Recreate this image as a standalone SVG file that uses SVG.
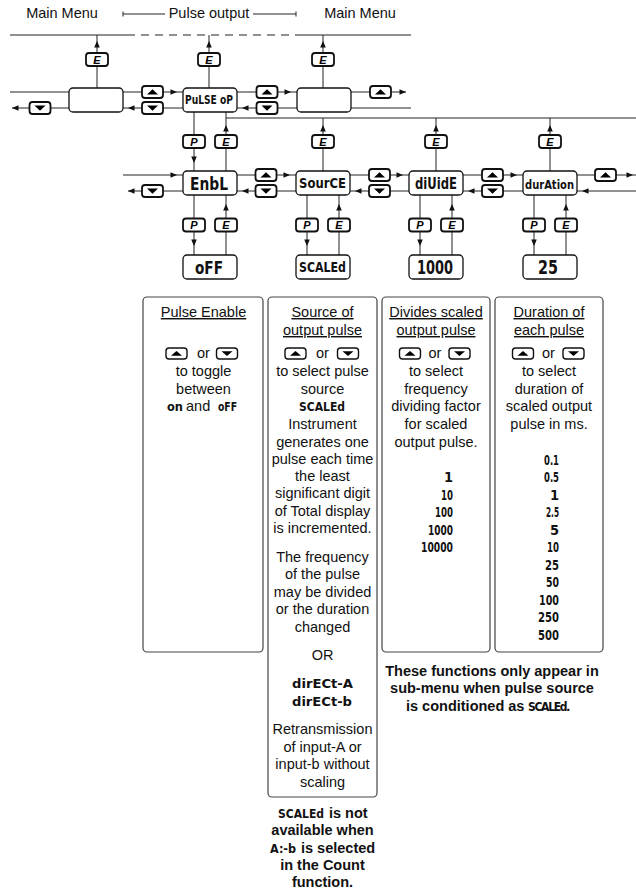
<svg xmlns="http://www.w3.org/2000/svg" xmlns:xlink="http://www.w3.org/1999/xlink" width="636" height="890" viewBox="0 0 636 890">
<style>
.ln{stroke:#222;stroke-width:1;fill:none}
.dash{stroke-dasharray:8 6}
.box{fill:#fff;stroke:#111;stroke-width:1.3}
.tb{fill:#fff;stroke:#444;stroke-width:1.2}
.t{font-family:"Liberation Sans",Arial,sans-serif;font-size:14.5px;fill:#111;text-anchor:middle}
.ts{font-family:"Liberation Sans",Arial,sans-serif;font-size:14.5px;fill:#111}
.u{text-decoration:underline}
.b{font-weight:bold}
.seg{font-family:"DejaVu Sans Condensed","Liberation Sans Narrow","DejaVu Sans",sans-serif;fill:#111;font-weight:bold}
.k{font-family:"Liberation Sans",Arial,sans-serif;font-weight:bold;font-style:italic;font-size:11px;text-anchor:middle;fill:#000}
.ah{fill:#111}
.kb{fill:#fff;stroke:#111;stroke-width:1.8}
.sk{fill:#fff;stroke:#111;stroke-width:1.4}
.tri{fill:#000}
</style>
<defs>
<path id="aR" class="ah" d="M0,0 L-6.5,-2.8 L-6.5,2.8 Z"/>
<path id="aL" class="ah" d="M0,0 L6.5,-2.8 L6.5,2.8 Z"/>
<path id="aU" class="ah" d="M0,0 L-2.8,6.5 L2.8,6.5 Z"/>
<path id="aD" class="ah" d="M0,0 L-2.8,-6.5 L2.8,-6.5 Z"/>
<g id="bU"><rect class="kb" x="-10.5" y="-6" width="21" height="12" rx="3"/><path class="tri" d="M-5.5,2.5 L0,-2.8 L5.5,2.5 Z"/></g>
<g id="bD"><rect class="kb" x="-10.5" y="-6" width="21" height="12" rx="3"/><path class="tri" d="M-5.5,-2.5 L0,2.8 L5.5,-2.5 Z"/></g>
<g id="sU"><rect class="sk" x="-10.5" y="-5.5" width="21" height="11" rx="3"/><path class="tri" d="M-5.5,2.3 L0,-2.6 L5.5,2.3 Z"/></g>
<g id="sD"><rect class="sk" x="-10.5" y="-5.5" width="21" height="11" rx="3"/><path class="tri" d="M-5.5,-2.3 L0,2.6 L5.5,-2.3 Z"/></g>
<rect id="bK" class="kb" x="-11" y="-6.5" width="22" height="13" rx="3"/>
</defs>

<g id="header">
<text class="t" x="62" y="18">Main Menu</text>
<text class="t" x="209" y="18">Pulse output</text>
<text class="t" x="360" y="18">Main Menu</text>
<path class="ln" d="M123,14 H165 M253,14 H296 M123,11.5 V16.5 M296,11.5 V16.5"/>
</g>

<g id="connectors">
<path class="ln" d="M10,35 H127 M297,35 H411"/>
<path class="ln dash" d="M127,35 H297"/>
<path class="ln" d="M97,88 V35 M209,88 V35 M323,88 V35"/>
<path class="ln" d="M10,92 H69 M123,92 H183 M237,92 H297 M351,92 H406"/>
<path class="ln" d="M12,108 H69 M123,108 H183 M237,108 H297 M351,108 H411"/>
<path class="ln" d="M194,112 V171 M226,112 V171 M226,118 H636 M323,118 V171 M436,118 V171 M550,118 V171"/>
<path class="ln" d="M123,175 H183 M237,175 H296 M350,175 H409 M463,175 H523 M577,175 H636"/>
<path class="ln" d="M128,191 H183 M237,191 H296 M350,191 H409 M463,191 H523 M577,191 H636"/>
<path class="ln" d="M194,195 V255 M226,195 V255 M307,195 V255 M339,195 V255 M420,195 V255 M452,195 V255 M534,195 V255 M566,195 V255"/>
<use href="#aU" x="97" y="41"/><use href="#aU" x="209" y="41"/><use href="#aU" x="323" y="41"/>
<use href="#aR" x="177" y="92"/><use href="#aR" x="291" y="92"/><use href="#aR" x="406" y="92"/>
<use href="#aL" x="12" y="108"/><use href="#aL" x="128" y="108"/><use href="#aL" x="242" y="108"/>
<use href="#aD" x="194" y="163"/>
<use href="#aU" x="226" y="125"/><use href="#aU" x="323" y="125"/><use href="#aU" x="436" y="125"/><use href="#aU" x="550" y="125"/>
<use href="#aR" x="177" y="175"/><use href="#aR" x="290" y="175"/><use href="#aR" x="403" y="175"/><use href="#aR" x="517" y="175"/><use href="#aR" x="633" y="175"/>
<use href="#aL" x="128" y="191"/><use href="#aL" x="242" y="191"/><use href="#aL" x="355" y="191"/><use href="#aL" x="468" y="191"/><use href="#aL" x="582" y="191"/>
<use href="#aD" x="194" y="246"/><use href="#aD" x="307" y="246"/><use href="#aD" x="420" y="246"/><use href="#aD" x="534" y="246"/>
<use href="#aU" x="226" y="204"/><use href="#aU" x="339" y="204"/><use href="#aU" x="452" y="204"/><use href="#aU" x="566" y="204"/>
</g>

<g id="keys">
<g id="k-e1"><use href="#bK" x="97" y="59.5"/><text class="k" x="97" y="63.5">E</text></g>
<g id="k-e2"><use href="#bK" x="209" y="59.5"/><text class="k" x="209" y="63.5">E</text></g>
<g id="k-e3"><use href="#bK" x="323" y="59.5"/><text class="k" x="323" y="63.5">E</text></g>
<use href="#bD" x="40" y="108"/>
<use href="#bU" x="152.5" y="92"/><use href="#bD" x="152.5" y="108"/>
<use href="#bU" x="267" y="92"/><use href="#bD" x="267" y="108"/>
<use href="#bU" x="380.5" y="92"/>
<g id="k-p1"><use href="#bK" x="194" y="141.5"/><text class="k" x="194" y="145.5">P</text></g>
<g id="k-e4"><use href="#bK" x="226" y="141.5"/><text class="k" x="226" y="145.5">E</text></g>
<g id="k-e5"><use href="#bK" x="323" y="141.5"/><text class="k" x="323" y="145.5">E</text></g>
<g id="k-e6"><use href="#bK" x="436" y="141.5"/><text class="k" x="436" y="145.5">E</text></g>
<g id="k-e7"><use href="#bK" x="550" y="141.5"/><text class="k" x="550" y="145.5">E</text></g>
<use href="#bD" x="152.5" y="191"/>
<use href="#bU" x="266" y="175"/><use href="#bD" x="266" y="191"/>
<use href="#bU" x="379.5" y="175"/><use href="#bD" x="379.5" y="191"/>
<use href="#bU" x="492.5" y="175"/><use href="#bD" x="492.5" y="191"/>
<use href="#bU" x="605.5" y="175"/>
<g id="k-p2"><use href="#bK" x="194" y="225"/><text class="k" x="194" y="229">P</text></g>
<g id="k-e8"><use href="#bK" x="226" y="225"/><text class="k" x="226" y="229">E</text></g>
<g id="k-p3"><use href="#bK" x="307" y="225"/><text class="k" x="307" y="229">P</text></g>
<g id="k-e9"><use href="#bK" x="339" y="225"/><text class="k" x="339" y="229">E</text></g>
<g id="k-p4"><use href="#bK" x="420" y="225"/><text class="k" x="420" y="229">P</text></g>
<g id="k-e10"><use href="#bK" x="452" y="225"/><text class="k" x="452" y="229">E</text></g>
<g id="k-p5"><use href="#bK" x="534" y="225"/><text class="k" x="534" y="229">P</text></g>
<g id="k-e11"><use href="#bK" x="566" y="225"/><text class="k" x="566" y="229">E</text></g>
</g>

<g id="n-menu-left"><rect class="box" x="69" y="88" width="54" height="24" rx="4"/></g>
<g id="n-pulseop"><rect class="box" x="183" y="88" width="54" height="24" rx="4"/><text class="seg" x="185" y="104" font-size="12.5" textLength="48" lengthAdjust="spacingAndGlyphs">PuLSE oP</text></g>
<g id="n-menu-right"><rect class="box" x="297" y="88" width="54" height="24" rx="4"/></g>

<g id="n-enbl"><rect class="box" x="183" y="171" width="54" height="24" rx="4"/><text class="seg" x="190" y="190" font-size="18" textLength="38" lengthAdjust="spacingAndGlyphs">EnbL</text></g>
<g id="n-source"><rect class="box" x="296" y="171" width="54" height="24" rx="4"/><text class="seg" x="299" y="188" font-size="14" textLength="47" lengthAdjust="spacingAndGlyphs">SourCE</text></g>
<g id="n-divide"><rect class="box" x="409" y="171" width="54" height="24" rx="4"/><text class="seg" x="415" y="189" font-size="15" textLength="42" lengthAdjust="spacingAndGlyphs">diUidE</text></g>
<g id="n-duration"><rect class="box" x="523" y="171" width="54" height="24" rx="4"/><text class="seg" x="525" y="189" font-size="12.5" textLength="49" lengthAdjust="spacingAndGlyphs">durAtion</text></g>

<g id="n-off"><rect class="box" x="183" y="255" width="54" height="24" rx="4"/><text class="seg" x="195" y="274" font-size="18" textLength="28" lengthAdjust="spacingAndGlyphs">oFF</text></g>
<g id="n-scaled"><rect class="box" x="296" y="255" width="54" height="24" rx="4"/><text class="seg" x="299" y="272" font-size="14" textLength="47" lengthAdjust="spacingAndGlyphs">SCALEd</text></g>
<g id="n-1000"><rect class="box" x="409" y="255" width="54" height="24" rx="4"/><text class="seg" x="417" y="274" font-size="19" textLength="36" lengthAdjust="spacingAndGlyphs">1000</text></g>
<g id="n-25"><rect class="box" x="523" y="255" width="54" height="24" rx="4"/><text class="seg" x="538" y="274" font-size="19" textLength="20" lengthAdjust="spacingAndGlyphs">25</text></g>

<g id="info-enable">
<rect class="tb" x="143" y="297" width="120" height="355" rx="4"/>
<text class="t u" x="203.5" y="317">Pulse Enable</text>
<use href="#sU" x="176.5" y="353.5"/><text class="t" x="203.5" y="358">or</text><use href="#sD" x="227" y="353.5"/>
<text class="t" x="203.5" y="376">to toggle</text>
<text class="t" x="203.5" y="394">between</text>
<text class="ts" y="411"><tspan class="seg" x="167" font-size="12" textLength="16" lengthAdjust="spacingAndGlyphs">on</tspan> <tspan x="186">and</tspan> <tspan class="seg" x="218" font-size="12" textLength="19" lengthAdjust="spacingAndGlyphs">oFF</tspan></text>
</g>

<g id="info-source">
<rect class="tb" x="268" y="297" width="109" height="500" rx="4"/>
<text class="t u" x="322.5" y="317">Source of</text>
<text class="t u" x="322.5" y="335">output pulse</text>
<use href="#sU" x="295.5" y="353.5"/><text class="t" x="322.5" y="358">or</text><use href="#sD" x="348" y="353.5"/>
<text class="t" x="322.5" y="376">to select pulse</text>
<text class="t" x="322.5" y="394">source</text>
<text class="seg" x="299" y="411" font-size="13" textLength="46" lengthAdjust="spacingAndGlyphs">SCALEd</text>
<text class="t" x="322.5" y="429">Instrument</text>
<text class="t" x="322.5" y="447">generates one</text>
<text class="t" x="322.5" y="464">pulse each time</text>
<text class="t" x="322.5" y="481">the least</text>
<text class="t" x="322.5" y="498">significant digit</text>
<text class="t" x="322.5" y="516">of Total display</text>
<text class="t" x="322.5" y="533">is incremented.</text>
<text class="t" x="322.5" y="562">The frequency</text>
<text class="t" x="322.5" y="579">of the pulse</text>
<text class="t" x="322.5" y="597">may be divided</text>
<text class="t" x="322.5" y="614">or the duration</text>
<text class="t" x="322.5" y="632">changed</text>
<text class="t" x="322.5" y="660">OR</text>
<text class="seg" x="292" y="688" font-size="13" textLength="61" lengthAdjust="spacingAndGlyphs">dirECt-A</text>
<text class="seg" x="292" y="706" font-size="13" textLength="60" lengthAdjust="spacingAndGlyphs">dirECt-b</text>
<text class="t" x="322.5" y="734">Retransmission</text>
<text class="t" x="322.5" y="752">of input-A or</text>
<text class="t" x="322.5" y="769">input-b without</text>
<text class="t" x="322.5" y="787">scaling</text>
</g>

<g id="info-divide">
<rect class="tb" x="382" y="297" width="108" height="355" rx="4"/>
<text class="t u" x="436" y="317">Divides scaled</text>
<text class="t u" x="436" y="335">output pulse</text>
<use href="#sU" x="410" y="353.5"/><text class="t" x="435" y="358">or</text><use href="#sD" x="459.5" y="353.5"/>
<text class="t" x="436" y="376">to select</text>
<text class="t" x="436" y="394">frequency</text>
<text class="t" x="436" y="411">dividing factor</text>
<text class="t" x="436" y="429">for scaled</text>
<text class="t" x="436" y="447">output pulse.</text>
<g class="seg" font-size="14.5" text-anchor="end">
<text x="453" y="482">1</text>
<text x="453" y="500" textLength="12" lengthAdjust="spacingAndGlyphs">10</text>
<text x="453" y="517" textLength="18" lengthAdjust="spacingAndGlyphs">100</text>
<text x="453" y="535" textLength="25" lengthAdjust="spacingAndGlyphs">1000</text>
<text x="453" y="552" textLength="32" lengthAdjust="spacingAndGlyphs">10000</text>
</g>
</g>

<g id="info-duration">
<rect class="tb" x="495" y="297" width="108" height="355" rx="4"/>
<text class="t u" x="549" y="317">Duration of</text>
<text class="t u" x="549" y="335">each pulse</text>
<use href="#sU" x="523" y="353.5"/><text class="t" x="548.5" y="358">or</text><use href="#sD" x="573.5" y="353.5"/>
<text class="t" x="549" y="376">to select</text>
<text class="t" x="549" y="394">duration of</text>
<text class="t" x="549" y="411">scaled output</text>
<text class="t" x="549" y="429">pulse in ms.</text>
<g class="seg" font-size="14.5" text-anchor="end">
<text x="559" y="465" textLength="15" lengthAdjust="spacingAndGlyphs">0.1</text>
<text x="559" y="482" textLength="15" lengthAdjust="spacingAndGlyphs">0.5</text>
<text x="559" y="500">1</text>
<text x="559" y="517" textLength="13" lengthAdjust="spacingAndGlyphs">2.5</text>
<text x="559" y="535">5</text>
<text x="559" y="552" textLength="12" lengthAdjust="spacingAndGlyphs">10</text>
<text x="559" y="570" textLength="14" lengthAdjust="spacingAndGlyphs">25</text>
<text x="559" y="587" textLength="13" lengthAdjust="spacingAndGlyphs">50</text>
<text x="559" y="605" textLength="20" lengthAdjust="spacingAndGlyphs">100</text>
<text x="559" y="622" textLength="21" lengthAdjust="spacingAndGlyphs">250</text>
<text x="559" y="640" textLength="21" lengthAdjust="spacingAndGlyphs">500</text>
</g>
</g>

<g id="note-scaled">
<text class="ts b" y="818"><tspan class="seg" x="278" font-size="13" textLength="46" lengthAdjust="spacingAndGlyphs">SCALEd</tspan> <tspan x="329">is not</tspan></text>
<text class="t b" x="322.5" y="835">available when</text>
<text class="ts b" y="853"><tspan class="seg" x="270" font-size="13" textLength="26" lengthAdjust="spacingAndGlyphs">A:-b</tspan> <tspan x="301">is selected</tspan></text>
<text class="t b" x="322.5" y="870">in the Count</text>
<text class="t b" x="322.5" y="887">function.</text>
</g>

<g id="note-functions">
<text class="t b" x="492" y="676">These functions only appear in</text>
<text class="t b" x="492" y="693">sub-menu when pulse source</text>
<text class="ts b" y="711"><tspan x="406">is conditioned as</tspan> <tspan class="seg" x="528" font-size="12" letter-spacing="-1.3">SCALEd</tspan>.</text>
</g>
</svg>
